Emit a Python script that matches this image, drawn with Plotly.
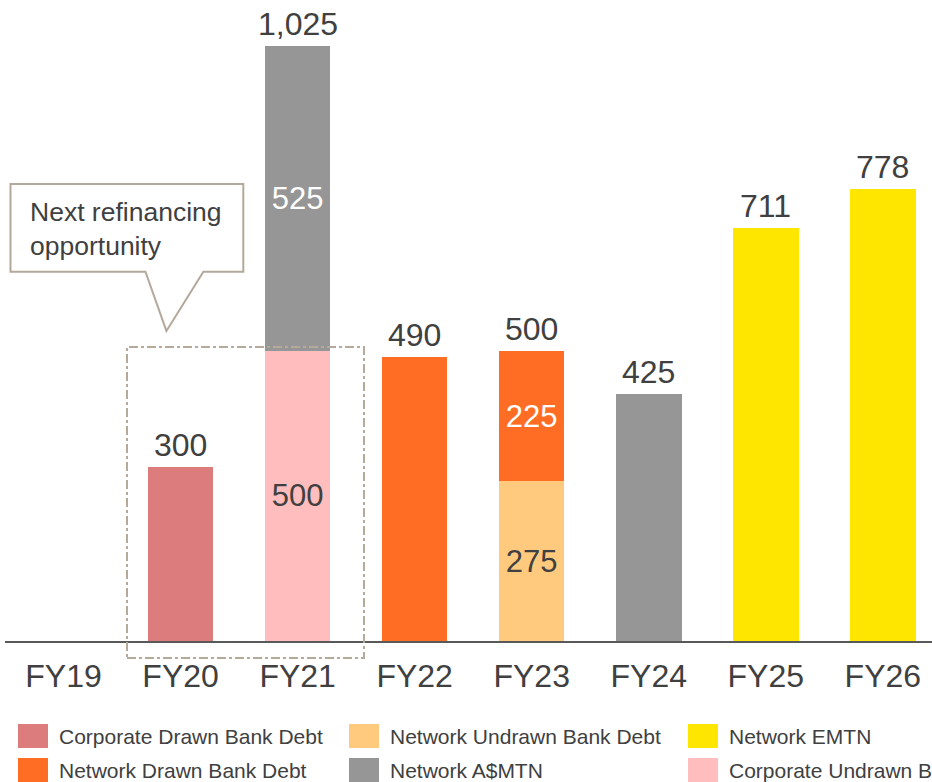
import plotly.graph_objects as go

categories = ["FY19", "FY20", "FY21", "FY22", "FY23", "FY24", "FY25", "FY26"]

corporate_drawn = [0, 300, 0, 0, 0, 0, 0, 0]
corporate_undrawn = [0, 0, 500, 0, 0, 0, 0, 0]
network_undrawn = [0, 0, 0, 0, 275, 0, 0, 0]
network_drawn = [0, 0, 0, 490, 225, 0, 0, 0]
network_amtn = [0, 0, 525, 0, 0, 425, 0, 0]
network_emtn = [0, 0, 0, 0, 0, 0, 711, 778]

series = [
    ("Corporate Drawn Bank Debt", corporate_drawn, "#DC7C7C", "#404040"),
    ("Corporate Undrawn Bank Debt", corporate_undrawn, "#FFBDBD", "#404040"),
    ("Network Undrawn Bank Debt", network_undrawn, "#FFC97E", "#404040"),
    ("Network Drawn Bank Debt", network_drawn, "#FF6D24", "#FFFFFF"),
    ("Network A$MTN", network_amtn, "#969696", "#FFFFFF"),
    ("Network EMTN", network_emtn, "#FFE600", "#404040"),
]

# legend order as shown (row-major, 3 columns)
legend_order = [
    "Corporate Drawn Bank Debt", "Network Undrawn Bank Debt", "Network EMTN",
    "Network Drawn Bank Debt", "Network A$MTN", "Corporate Undrawn Bank Debt",
]

FONT = "Liberation Sans, Arial, sans-serif"
TXT = "#404040"

n_nonzero = [sum(1 for _, v, _, _ in series if v[i] > 0) for i in range(len(categories))]
totals = [sum(v[i] for _, v, _, _ in series) for i in range(len(categories))]

fig = go.Figure()
for name, vals, color, tcolor in series:
    texts = [f"{v:,}" if (v > 0 and n_nonzero[i] > 1) else "" for i, v in enumerate(vals)]
    fig.add_trace(go.Bar(
        x=categories, y=vals, name=name, marker=dict(color=color, line=dict(width=0)),
        text=texts, textposition="inside", insidetextanchor="middle",
        textfont=dict(family=FONT, size=31, color=tcolor),
        showlegend=False, hoverinfo="skip",
    ))

annotations = []
for i, t in enumerate(totals):
    if t > 0:
        annotations.append(dict(
            x=categories[i], y=t, xref="x", yref="y", text=f"{t:,}",
            showarrow=False, yanchor="bottom", yshift=2,
            font=dict(family=FONT, size=32, color=TXT),
        ))

W, H = 932, 782
ML, MB = 5, 141
PW, PH = W - ML, H - MB

def px_x(p):
    return (p - ML) / PW

def px_y(p):
    return (PH - p) / PH

shapes = []
# dashed highlight box around FY20-FY21 (extends below the axis)
shapes.append(dict(type="rect", xref="paper", yref="paper",
                   x0=px_x(127), x1=px_x(364), y0=px_y(658), y1=px_y(347),
                   line=dict(color="#B5A99A", width=2, dash="dashdot"), layer="above"))
# callout box with pointer
xl, xr, yb, yt = -0.453, 1.536, 636, 787
px1, px2, tipx, tipy = 0.700, 1.195, 0.879, 534
path = (f"M {xl},{yb} L {px1},{yb} L {tipx},{tipy} L {px2},{yb} L {xr},{yb} "
        f"L {xr},{yt} L {xl},{yt} Z")
shapes.append(dict(type="path", xref="x", yref="y", path=path,
                   line=dict(color="#B4A89A", width=2), fillcolor="white", layer="above"))
annotations.append(dict(
    x=-0.305, y=709, xref="x", yref="y", text="Next refinancing<br>opportunity",
    showarrow=False, xanchor="left", yanchor="middle", align="left",
    font=dict(family=FONT, size=26.5, color=TXT),
))

# manual legend (cut off at right edge like reference)
color_of = {name: color for name, _, color, _ in series}
col_x = [18, 349, 688]
row_y = [736, 770]
for k, name in enumerate(legend_order):
    cx = col_x[k % 3]
    cy = row_y[k // 3]
    shapes.append(dict(type="rect", xref="paper", yref="paper",
                       x0=px_x(cx), x1=px_x(cx + 30),
                       y0=px_y(cy + 12), y1=px_y(cy - 12),
                       fillcolor=color_of[name], line=dict(width=0)))
    annotations.append(dict(
        x=px_x(cx + 39), y=px_y(cy), xref="paper", yref="paper",
        text=name, showarrow=False, xanchor="left", yanchor="middle",
        font=dict(family=FONT, size=21, color=TXT),
    ))

fig.update_layout(
    width=W, height=H,
    margin=dict(l=ML, r=0, t=0, b=MB),
    plot_bgcolor="white", paper_bgcolor="white",
    barmode="stack", bargap=0.44,
    uniformtext=dict(mode=False),
    xaxis=dict(range=[-0.5, 7.42], showline=True, linecolor="#595959", linewidth=2,
               showgrid=False, ticks="", zeroline=False, ticklabelstandoff=6,
               tickfont=dict(family=FONT, size=32, color=TXT)),
    yaxis=dict(range=[0, 1104], visible=False, showgrid=False, zeroline=False),
    annotations=annotations, shapes=shapes,
)

fig.write_html("out.html", config={"displayModeBar": False},
               post_script="document.body.style.margin='0px';")
